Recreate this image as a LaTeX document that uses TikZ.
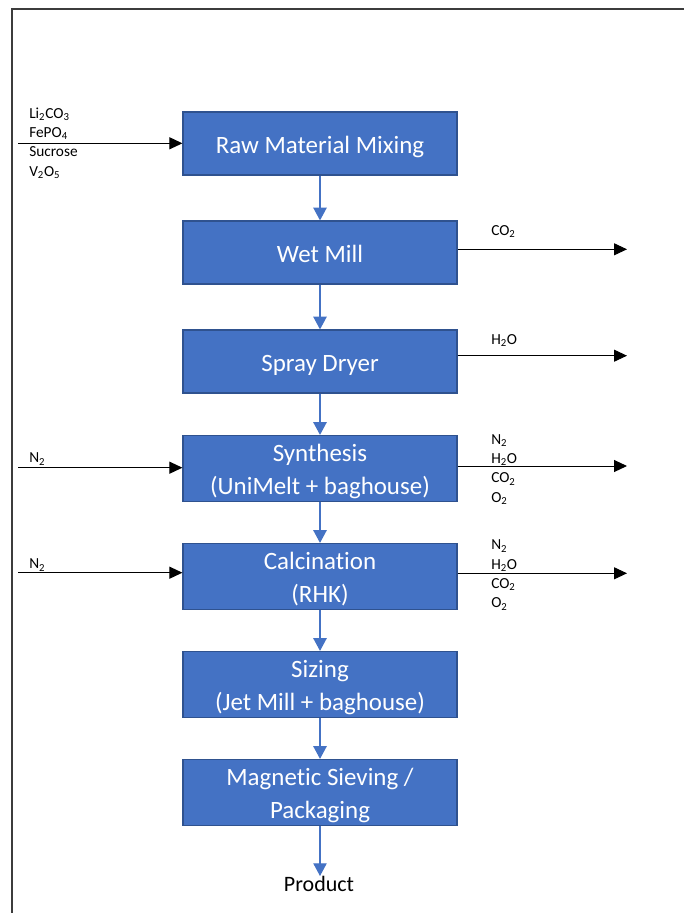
\documentclass[tikz,border=0pt]{standalone}
\usepackage{fontspec}
\setmainfont{Carlito}[Ligatures=NoCommon]
\usetikzlibrary{arrows.meta}
\definecolor{boxblue}{HTML}{4472C4}
\definecolor{boxedge}{HTML}{2F528F}
\definecolor{framegray}{HTML}{3C3C3C}
\newcommand{\boxtxt}[1]{\raisebox{-2.4pt}[\height][\depth]{\begin{tabular}{@{}c@{}}#1\end{tabular}}}
\begin{document}
\begin{tikzpicture}[x=0.75pt,y=-0.75pt,
  proc/.style={draw=boxedge, line width=0.9pt, fill=boxblue, text=white,
    minimum width=205.5pt, minimum height=47.25pt, align=center, inner sep=0pt,
    font=\fontsize{18.7}{24.75}\selectfont},
  flow/.style={draw=boxblue, line width=0.9pt, -{Triangle[length=9.5pt,width=10pt]}},
  stream/.style={draw=black, line width=0.75pt, -{Triangle[length=9.75pt,width=9pt]}},
  lbl/.style={align=left, inner sep=0pt, font=\fontsize{11.5}{14.5}\selectfont}]
\useasboundingbox (0,0) rectangle (683,913);
\draw[framegray, line width=1.5pt] (12,914) -- (12,9) -- (684,9);

% process boxes
\node[proc] (mix)  at (320,143.5) {\boxtxt{Raw Material Mixing}};
\node[proc] (wet)  at (320,252.5) {\boxtxt{Wet Mill}};
\node[proc] (dry)  at (320,361.5) {\boxtxt{Spray Dryer}};
\node[proc] (syn)  at (320,468.5) {\boxtxt{Synthesis\\(UniMelt + baghouse)}};
\node[proc] (cal)  at (320,576.5) {\boxtxt{Calcination\\(RHK)}};
\node[proc] (siz)  at (320,684.5) {\boxtxt{Sizing\\(Jet Mill + baghouse)}};
\node[proc] (mag)  at (320,792.5) {\boxtxt{Magnetic Sieving /\\Packaging}};
\node[inner sep=0pt, anchor=north, font=\fontsize{16.5}{19}\selectfont] (prod) at (319,876) {Product};

% main flow
\draw[flow] (mix) -- (wet);
\draw[flow] (wet) -- (dry);
\draw[flow] (dry) -- (syn);
\draw[flow] (syn) -- (cal);
\draw[flow] (cal) -- (siz);
\draw[flow] (siz) -- (mag);
\draw[flow] (mag.south) -- (mag.south |- prod.north);

% input streams
\coordinate (in1) at (18,143.3);
\coordinate (in2) at (18,467.7);
\coordinate (in3) at (18,572.7);
\draw[stream] (in1) -- (mix.west |- in1);
\draw[stream] (in2) -- (syn.west |- in2);
\draw[stream] (in3) -- (cal.west |- in3);
\node[lbl, anchor=west] (l1) at (29,143) {Li\textsubscript{2}CO\textsubscript{3}\\FePO\textsubscript{4}\\Sucrose\\V\textsubscript{2}O\textsubscript{5}};
\node[lbl, anchor=west] (l2) at (29,459) {N\textsubscript{2}};
\node[lbl, anchor=west] (l3) at (29,565) {N\textsubscript{2}};

% output streams
\coordinate (out1) at (627,249.3);
\coordinate (out2) at (627,355.7);
\coordinate (out3) at (627,466);
\coordinate (out4) at (627,573.3);
\draw[stream] (wet.east |- out1) -- (out1);
\draw[stream] (dry.east |- out2) -- (out2);
\draw[stream] (syn.east |- out3) -- (out3);
\draw[stream] (cal.east |- out4) -- (out4);
\node[lbl, anchor=west] (r1) at (491,231.7) {CO\textsubscript{2}};
\node[lbl, anchor=west] (r2) at (491,340.7) {H\textsubscript{2}O};
\node[lbl, anchor=west] (r3) at (491,469.5) {N\textsubscript{2}\\H\textsubscript{2}O\\CO\textsubscript{2}\\O\textsubscript{2}};
\node[lbl, anchor=west] (r4) at (491,575) {N\textsubscript{2}\\H\textsubscript{2}O\\CO\textsubscript{2}\\O\textsubscript{2}};
\end{tikzpicture}
\end{document}
